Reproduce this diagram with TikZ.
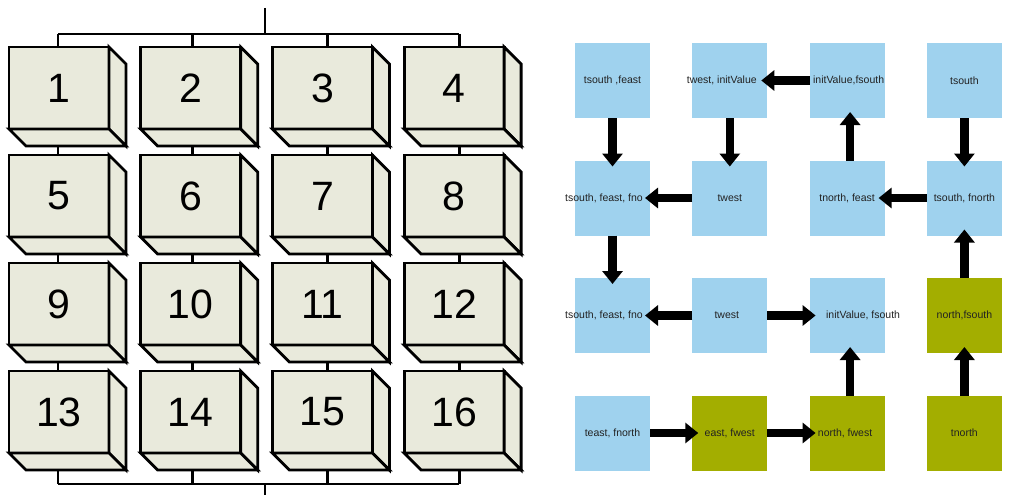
\documentclass[tikz,border=0pt]{standalone}
\usepackage{fontspec}
\setmainfont{Liberation Sans}
\usetikzlibrary{arrows.meta}
\definecolor{cubefill}{HTML}{E9EADC}
\definecolor{cellblue}{HTML}{9FD2EE}
\definecolor{cellolive}{HTML}{A3AE00}
\definecolor{labelgray}{HTML}{222222}
\begin{document}
\begin{tikzpicture}[x=1pt,y=1pt,
  front/.style={draw, line width=2.8pt, fill=cubefill, minimum width=100pt, minimum height=82pt, inner sep=0pt, outer sep=0pt, font=\fontsize{41}{41}\selectfont},
  face/.style={draw, line width=2.8pt, fill=cubefill, line join=miter},
  bus/.style={line width=2.8pt},
  cell/.style={minimum size=75pt, inner sep=0pt, outer sep=0pt},
  bluecell/.style={cell, fill=cellblue},
  olivecell/.style={cell, fill=cellolive},
  lbl/.style={font=\fontsize{10.5}{12}\selectfont, text=labelgray, inner sep=0pt},
  flow/.style={line width=8.5pt, -{Triangle[width=20pt,length=13pt]}}]
\useasboundingbox (0,0) rectangle (1009,-495);
% ---------- cubes ----------
\foreach \j in {0,...,3}{
  \foreach \i in {0,...,3}{
    \pgfmathsetmacro\cx{59+131.7*\i}
    \pgfmathsetmacro\cy{-(88+108*\j)}
    \pgfmathtruncatemacro\n{4*\j+\i+1}
    \node[front] (c\n) at (\cx,\cy) {\n};
    \draw[face] (c\n.north east) -- ++(17,-17) -- ([shift={(17,-17)}]c\n.south east) -- (c\n.south east) -- cycle;
    \draw[face] (c\n.south west) -- ++(17,-17) -- ([shift={(17,-17)}]c\n.south east) -- (c\n.south east) -- cycle;
  }
}
% ---------- buses ----------
\coordinate (topin) at (265,-8);
\coordinate (topbus) at (265,-34);
\coordinate (botbus) at (265,-484);
\coordinate (botout) at (265,-495);
\draw[bus] (topin) -- (topbus);
\draw[bus] (botbus) -- (botout);
\draw[bus] ([xshift=-1pt]c1.north |- topbus) -- ([xshift=5pt]c4.north |- topbus);
\draw[bus] ([xshift=-1pt]c13.south |- botbus) -- ([xshift=5pt]c16.south |- botbus);
\foreach \a/\b/\c/\d/\dx in {1/5/9/13/-1, 2/6/10/14/2, 3/7/11/15/5, 4/8/12/16/5}{
  \draw[bus] ([xshift=\dx pt]c\a.north |- topbus) -- ([xshift=\dx pt]c\a.north);
  \draw[bus] ([shift={(\dx pt,-17pt)}]c\a.south) -- ([xshift=\dx pt]c\b.north);
  \draw[bus] ([shift={(\dx pt,-17pt)}]c\b.south) -- ([xshift=\dx pt]c\c.north);
  \draw[bus] ([shift={(\dx pt,-17pt)}]c\c.south) -- ([xshift=\dx pt]c\d.north);
  \draw[bus] ([shift={(\dx pt,-17pt)}]c\d.south) -- ([xshift=\dx pt]c\d.south |- botbus);
}
% ---------- grid cells ----------
\foreach \r in {1,...,4}{
  \foreach \c in {1,...,4}{
    \pgfmathsetmacro\gx{612.5+117.3*(\c-1)}
    \pgfmathsetmacro\gy{-(80.5+117.5*(\r-1))}
    \node[bluecell] (r\r\c) at (\gx,\gy) {};
  }
}
\foreach \rc in {34,42,43,44}{
  \node[olivecell] at (r\rc) {};
}
% ---------- labels ----------
\node[lbl] (l11) at (r11.center) {tsouth ,feast};
\node[lbl] (l12) at ([xshift=-8pt]r12.center) {twest, initValue};
\node[lbl] (l13) at ([xshift=1.5pt]r13.center) {initValue,fsouth};
\node[lbl] (l14) at (r14.center) {tsouth};
\node[lbl, anchor=west] (l21) at (r21.center -| 565,0) {tsouth, feast, fno};
\node[lbl] (l22) at (r22.center) {twest};
\node[lbl] (l23) at (r23.center) {tnorth, feast};
\node[lbl] (l24) at (r24.center) {tsouth, fnorth};
\node[lbl, anchor=west] (l31) at (r31.center -| 565,0) {tsouth, feast, fno};
\node[lbl] (l32) at ([xshift=-3pt]r32.center) {twest};
\node[lbl] (l33) at ([xshift=16pt]r33.center) {initValue, fsouth};
\node[lbl] (l34) at (r34.center) {north,fsouth};
\node[lbl] (l41) at (r41.center) {teast, fnorth};
\node[lbl] (l42) at (r42.center) {east, fwest};
\node[lbl] (l43) at ([xshift=-2pt]r43.center) {north, fwest};
\node[lbl] (l44) at (r44.center) {tnorth};
% ---------- arrows ----------
\draw[flow] (r11.south) -- ([yshift=-6pt]r21.north);
\draw[flow] (r13.west) -- ([xshift=-6pt]r12.east);
\draw[flow] (r12.south) -- ([yshift=-6pt]r22.north);
\draw[flow] ([xshift=3pt]r23.north) -- ([shift={(3pt,6pt)}]r13.south);
\draw[flow] (r14.south) -- ([yshift=-6pt]r24.north);
\draw[flow] (r22.west) -- ([xshift=-5pt]r21.east);
\draw[flow] (r24.west) -- ([xshift=-6pt]r23.east);
\draw[flow] (r34.north) -- ([yshift=6pt]r24.south);
\draw[flow] (r21.south) -- ([yshift=-6pt]r31.north);
\draw[flow] (r32.west) -- ([xshift=-5pt]r31.east);
\draw[flow] (r32.east) -- ([xshift=6pt]r33.west);
\draw[flow] ([xshift=3pt]r43.north) -- ([shift={(3pt,6pt)}]r33.south);
\draw[flow] (r44.north) -- ([yshift=6pt]r34.south);
\draw[flow] (r41.east) -- ([xshift=6pt]r42.west);
\draw[flow] (r42.east) -- ([xshift=6pt]r43.west);
\end{tikzpicture}
\end{document}
